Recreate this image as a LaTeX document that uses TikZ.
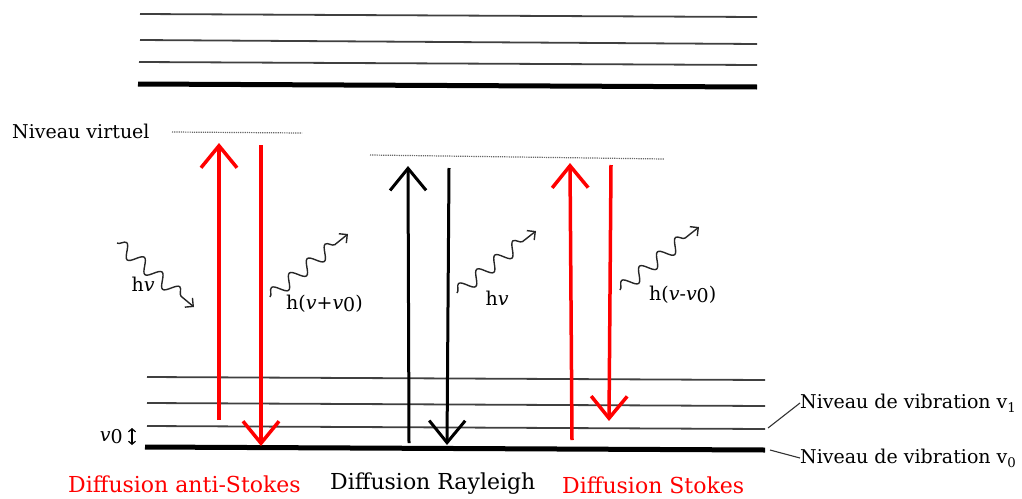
\documentclass[tikz,border=0pt]{standalone}
\usepackage{fontspec}
\setmainfont{DejaVu Serif}
\usetikzlibrary{arrows.meta,decorations.pathmorphing}
\begin{document}
\begin{tikzpicture}[x=1pt,y=-1pt,
  lvl/.style={line width=1.8pt, black!75},
  tlvl/.style={line width=5pt, black},
  virt/.style={densely dotted, line width=1.2pt, black!60},
  bigarrow/.style={line width=3.5pt, -{Straight Barb[length=22pt,width=36pt]}},
  wave/.style={line width=1.4pt, black!85, decorate, decoration={snake, amplitude=6.5pt, segment length=23pt, post length=8pt}, -{Straight Barb[length=6pt,width=12pt]}},
  lbl/.style={font=\fontsize{19}{22}\selectfont, inner sep=0pt},
  blbl/.style={font=\fontsize{22}{26}\selectfont, inner sep=0pt},
  lead/.style={line width=1.1pt, black!80}
]
\useasboundingbox (0,0) rectangle (1022,498);
% upper levels
\draw[lvl] (140,14) -- (757,17);
\draw[lvl] (140,40) -- (757,44);
\draw[lvl] (139,62) -- (757,65);
\draw[tlvl] (138,84) -- (757,87);
% lower levels
\draw[lvl] (147,377) -- (765,380);
\draw[lvl] (147,403) -- (765,406);
\draw[lvl] (147,426) -- (765,429);
\draw[tlvl] (145,447) -- (765,450);
% virtual levels
\draw[virt] (172,132) -- (302,133);
\draw[virt] (370,155) -- (664,159);
\node[lbl, anchor=west] (nv) at (12,131) {Niveau virtuel};
% anti-Stokes
\coordinate (a1) at (219,420);
\coordinate (a2) at (219,143);
\coordinate (a3) at (261,145);
\coordinate (a4) at (261,446);
\draw[bigarrow, red] (a1) -- (a2);
\draw[bigarrow, red] (a3) -- (a4);
% Rayleigh
\coordinate (r1) at (409,443);
\coordinate (r2) at (408,166);
\coordinate (r3) at (449,168);
\coordinate (r4) at (447,445);
\draw[bigarrow, black, line width=3pt] (r1) -- (r2);
\draw[bigarrow, black, line width=3pt] (r3) -- (r4);
% Stokes
\coordinate (s1) at (572,440);
\coordinate (s2) at (570,163);
\coordinate (s3) at (611,165);
\coordinate (s4) at (609,421);
\draw[bigarrow, red] (s1) -- (s2);
\draw[bigarrow, red] (s3) -- (s4);
% waves
\coordinate (w1a) at (117,243);
\coordinate (w1b) at (194,307);
\draw[wave] (w1a) -- (w1b);
\node[lbl] (l1) at (143,284) {h\textit{v}};
\coordinate (w2a) at (270,297);
\coordinate (w2b) at (348,234);
\draw[wave] (w2a) -- (w2b);
\node[lbl, anchor=west] (l2) at (286,304) {h(\textit{v}+\textit{v}\raisebox{-2pt}{0})};
\coordinate (w3a) at (457,293);
\coordinate (w3b) at (536,231);
\draw[wave] (w3a) -- (w3b);
\node[lbl] (l3) at (497,298) {h\textit{v}};
\coordinate (w4a) at (620,290);
\coordinate (w4b) at (699,227);
\draw[wave] (w4a) -- (w4b);
\node[lbl, anchor=west] (l4) at (649,295) {h(\textit{v}-\textit{v}\raisebox{-2pt}{0})};
% v0 marker
\node[lbl, anchor=east] (v0) at (123,437) {\textit{v}\raisebox{-2pt}{0}};
\coordinate (d1) at (132,428);
\coordinate (d2) at (132,445);
\draw[line width=1.2pt, {Straight Barb[length=3pt,width=7pt]}-{Straight Barb[length=3pt,width=7pt]}] (d1) -- (d2);
% bottom labels
\node[blbl, red, anchor=west] (as) at (68,484) {Diffusion anti-Stokes};
\node[blbl, black, anchor=west] (ry) at (330,484) {Diffusion Rayleigh};
\node[blbl, red, anchor=west] (st) at (562,485) {Diffusion Stokes};
% right labels
\node[lbl, anchor=west] (n1) at (800,403) {Niveau de vibration v\textsubscript{1}};
\node[lbl, anchor=west] (n0) at (800,458) {Niveau de vibration v\textsubscript{0}};
\coordinate (p1) at (768,428);
\coordinate (p0) at (770,450);
\draw[lead] (p1) -- (n1.west);
\draw[lead] (p0) -- (n0.west);
\end{tikzpicture}
\end{document}
